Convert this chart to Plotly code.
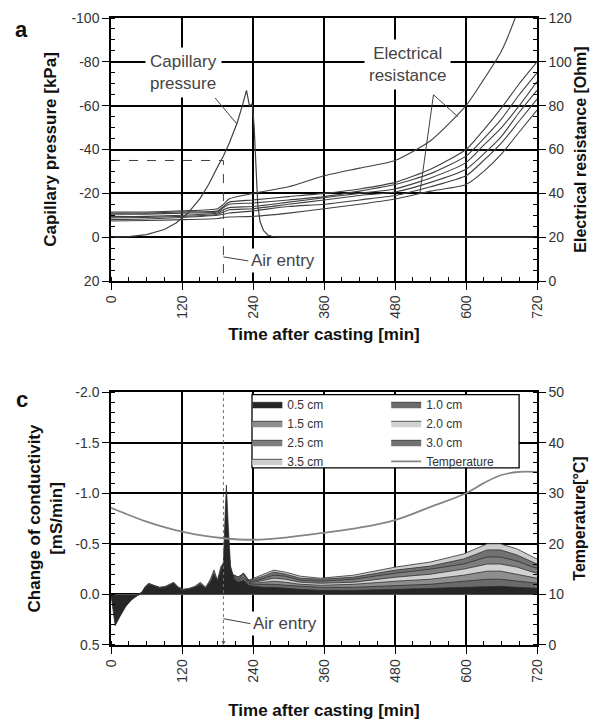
import plotly.graph_objects as go

# ---------------- Panel a data ----------------
cap_t = [0, 30, 60, 90, 110, 130, 150, 165, 180, 190, 200, 213, 222, 229, 234, 239, 242, 245, 248, 252, 258, 265, 275, 285, 400, 600, 720]
cap_p = [0, -0.3, -1.2, -3.5, -6.5, -11, -17.5, -24, -32, -37, -43, -52, -60, -67, -60, -61, -50, -30, -15, -7, -3, -1, -0.2, 0, 0, 0, 0]

res_t = [0, 60, 120, 180, 190, 200, 240, 300, 360, 420, 480, 540, 600, 630, 660, 690, 720]
res_1 = [31.5, 31.5, 32, 33, 35, 37.5, 40, 43, 48, 51.5, 55, 64, 80, 92, 105, 125, 150]
res_2 = [31, 31, 31.5, 32, 34, 36, 37, 38.5, 40, 42, 45, 51, 60, 69, 79, 90, 100]
res_3 = [30.5, 30.5, 31, 31.5, 33.5, 35, 35.6, 37, 38.5, 41, 44, 49, 57, 65, 74, 85, 95]
res_4 = [29.5, 29.5, 30, 31, 32.5, 33.5, 34, 36, 38, 40, 42, 47, 54, 62, 70, 80, 91]
res_5 = [28.8, 29, 29.5, 30.5, 31.5, 32.5, 33, 35, 37, 39, 40.6, 45, 51, 58, 66, 77, 87]
res_6 = [28, 28.3, 29, 30, 30.5, 31, 32, 34, 35, 37, 39, 43, 48, 55, 63, 73, 83]
res_7 = [27.4, 27.6, 28, 28.5, 29, 29.2, 29.5, 31, 33, 35, 37.4, 41, 44, 50, 58, 68, 78]
res_series = [res_1, res_2, res_3, res_4, res_5, res_6, res_7]

air_entry_time = 190
air_entry_pressure = -35

# tick labels
x_ticks = [0, 120, 240, 360, 480, 600, 720]
cap_ticks = [-100, -80, -60, -40, -20, 0, 20]
cap_ticklabels = ["-100", "-80", "-60", "-40", "-20", "0", "20"]
res_ticks = [0, 20, 40, 60, 80, 100, 120]
cond_ticks = [-2.0, -1.5, -1.0, -0.5, 0.0, 0.5]
cond_ticklabels = ["-2.0", "-1.5", "-1.0", "-0.5", "0.0", "0.5"]
temp_ticks = [0, 10, 20, 30, 40, 50]

# ---------------- Panel c data ----------------
cond_t = [0, 3, 7, 15, 25, 35, 45, 52, 58, 64, 72, 82, 92, 100, 106, 114, 122, 132, 142, 151,
          160, 168, 174, 180, 186, 190, 193, 195, 198, 202, 208, 215, 224, 233,
          242, 258, 275, 295, 320, 354, 410, 481, 540, 596, 636, 658, 686, 713, 720]
cond_05 = [0, 0.12, 0.31, 0.22, 0.12, 0.05, 0.0, -0.02, -0.07, -0.1, -0.08, -0.06, -0.07, -0.09, -0.11, -0.06, -0.04, -0.05, -0.07, -0.1,
           -0.06, -0.12, -0.2, -0.13, -0.25, -0.32, -0.8, -1.08, -0.7, -0.28, -0.15, -0.12, -0.14, -0.09,
           -0.08, -0.07, -0.07, -0.06, -0.05, -0.04, -0.04, -0.05, -0.06, -0.07, -0.08, -0.08, -0.07, -0.06, -0.06]
cond_10 = [0, 0.08, 0.24, 0.2, 0.11, 0.05, 0.01, -0.02, -0.08, -0.11, -0.09, -0.07, -0.08, -0.1, -0.12, -0.07, -0.05, -0.06, -0.08, -0.12,
           -0.07, -0.15, -0.24, -0.14, -0.28, -0.3, -0.55, -0.7, -0.5, -0.25, -0.17, -0.14, -0.17, -0.11,
           -0.1, -0.1, -0.1, -0.09, -0.08, -0.07, -0.07, -0.09, -0.1, -0.13, -0.15, -0.15, -0.13, -0.11, -0.11]
cond_15 = [0, 0.06, 0.2, 0.18, 0.1, 0.05, 0.01, -0.02, -0.07, -0.1, -0.09, -0.07, -0.07, -0.09, -0.1, -0.07, -0.05, -0.05, -0.07, -0.1,
           -0.07, -0.13, -0.2, -0.14, -0.24, -0.26, -0.4, -0.5, -0.38, -0.24, -0.18, -0.15, -0.19, -0.12,
           -0.11, -0.12, -0.13, -0.12, -0.1, -0.09, -0.1, -0.13, -0.15, -0.19, -0.23, -0.23, -0.2, -0.17, -0.16]
cond_20 = [0, 0.05, 0.17, 0.16, 0.09, 0.04, 0.01, -0.02, -0.06, -0.09, -0.08, -0.06, -0.06, -0.08, -0.09, -0.06, -0.04, -0.05, -0.06, -0.09,
           -0.06, -0.11, -0.18, -0.13, -0.2, -0.22, -0.3, -0.36, -0.3, -0.22, -0.19, -0.16, -0.2, -0.13,
           -0.12, -0.14, -0.16, -0.15, -0.12, -0.11, -0.12, -0.17, -0.2, -0.25, -0.3, -0.3, -0.27, -0.22, -0.21]
cond_25 = [0, 0.04, 0.14, 0.14, 0.08, 0.04, 0.01, -0.01, -0.05, -0.08, -0.07, -0.06, -0.06, -0.07, -0.08, -0.06, -0.04, -0.04, -0.06, -0.08,
           -0.06, -0.1, -0.15, -0.12, -0.17, -0.19, -0.24, -0.28, -0.25, -0.2, -0.19, -0.17, -0.21, -0.13,
           -0.13, -0.16, -0.19, -0.18, -0.14, -0.13, -0.15, -0.21, -0.25, -0.3, -0.37, -0.37, -0.33, -0.27, -0.26]
cond_30 = [0, 0.03, 0.11, 0.12, 0.07, 0.03, 0.0, -0.01, -0.04, -0.07, -0.06, -0.05, -0.05, -0.06, -0.07, -0.05, -0.04, -0.04, -0.05, -0.07,
           -0.05, -0.09, -0.13, -0.11, -0.15, -0.17, -0.2, -0.22, -0.21, -0.19, -0.19, -0.17, -0.21, -0.14,
           -0.15, -0.18, -0.22, -0.2, -0.16, -0.15, -0.17, -0.24, -0.28, -0.35, -0.44, -0.44, -0.39, -0.32, -0.3]
cond_35 = [0, 0.02, 0.09, 0.1, 0.06, 0.03, 0.0, -0.01, -0.04, -0.06, -0.05, -0.05, -0.05, -0.05, -0.06, -0.05, -0.03, -0.04, -0.05, -0.06,
           -0.05, -0.08, -0.11, -0.1, -0.13, -0.15, -0.17, -0.19, -0.19, -0.18, -0.18, -0.17, -0.2, -0.14,
           -0.16, -0.2, -0.24, -0.22, -0.18, -0.16, -0.19, -0.27, -0.32, -0.4, -0.5, -0.5, -0.45, -0.37, -0.35]

depth_labels = ["0.5 cm", "1.0 cm", "1.5 cm", "2.0 cm", "2.5 cm", "3.0 cm", "3.5 cm"]
depth_values = [cond_05, cond_10, cond_15, cond_20, cond_25, cond_30, cond_35]
depth_colors = ["#262626", "#6a6a6a", "#8e8e8e", "#d2d2d2", "#7e7e7e", "#727272", "#cdcdcd"]
depth_legend = ["legend", "legend2", "legend", "legend2", "legend", "legend2", "legend"]

temp_t = [0, 30, 60, 90, 120, 150, 190, 240, 300, 354, 420, 480, 540, 600, 630, 660, 690, 720]
temp_c = [27.1, 25.7, 24.4, 23.3, 22.4, 21.7, 21.1, 20.8, 21.3, 22.1, 23.2, 24.7, 27.3, 30, 32, 33.6, 34.2, 34.2]

# ---------------- Figure ----------------
fig = go.Figure()
LC = "#404040"

fig.add_trace(go.Scatter(x=cap_t, y=cap_p, mode="lines", line=dict(color=LC, width=1.2),
                         xaxis="x", yaxis="y", showlegend=False))
for r in res_series:
    fig.add_trace(go.Scatter(x=res_t, y=r, mode="lines", line=dict(color=LC, width=1.1, shape="spline", smoothing=0.6),
                             xaxis="x", yaxis="y2", showlegend=False))
fig.add_trace(go.Scatter(x=[0, air_entry_time, air_entry_time], y=[air_entry_pressure, air_entry_pressure, 20],
                         mode="lines", line=dict(color=LC, width=1, dash="dash"),
                         xaxis="x", yaxis="y", showlegend=False))

for i in reversed(range(len(depth_values))):
    fig.add_trace(go.Scatter(x=cond_t, y=depth_values[i], mode="lines", fill="tozeroy",
                             fillcolor=depth_colors[i], line=dict(color="#303030", width=0.8),
                             name=depth_labels[i], legend=depth_legend[i], legendrank=i + 1,
                             xaxis="x2", yaxis="y3"))
fig.add_trace(go.Scatter(x=temp_t, y=temp_c, mode="lines", line=dict(color="#858585", width=1.8, shape="spline"),
                         name="Temperature", legend="legend2", legendrank=8, xaxis="x2", yaxis="y4"))
fig.add_trace(go.Scatter(x=[air_entry_time, air_entry_time], y=[-2.0, 0.48], mode="lines",
                         line=dict(color="#707070", width=1, dash="dot"), xaxis="x2", yaxis="y3", showlegend=False))

FONT = "Liberation Sans, Arial, sans-serif"
tickfont = dict(family=FONT, size=14, color="#333")
titlefont = dict(family=FONT, size=17, color="#111")

common = dict(ticks="outside", ticklen=7, tickwidth=1.3, tickcolor="black", zeroline=False,
              showline=True, linecolor="black", linewidth=1.5, tickfont=tickfont, automargin=False)

def xax(anchor, title, standoff):
    return dict(anchor=anchor, domain=[0, 1], range=[0, 720], tickmode="array", tickvals=x_ticks, tickangle=-90,
                minor=dict(ticks="inside", dtick=30, tick0=0, ticklen=4, tickcolor="black", showgrid=False),
                showgrid=True, gridcolor="black", gridwidth=1.5, mirror=True,
                title=dict(text=title, font=titlefont, standoff=standoff), **common)

fig.update_layout(
    width=593, height=713,
    margin=dict(l=103, r=64, t=10, b=76, autoexpand=False),
    paper_bgcolor="white", plot_bgcolor="white",
    font=dict(family=FONT),
    xaxis=xax("y", "<b>Time after casting [min]</b>", 10),
    xaxis2=xax("y3", "<b>Time after casting [min]</b>", 22),
    yaxis=dict(domain=[0.5805, 1], range=[20, -100], tickmode="array", tickvals=cap_ticks, ticktext=cap_ticklabels,
               minor=dict(ticks="inside", dtick=5, tick0=0, ticklen=4, tickcolor="black", showgrid=False),
               showgrid=True, gridcolor="black", gridwidth=1.5,
               title=dict(text="<b>Capillary pressure [kPa]</b>", font=titlefont, standoff=10), **common),
    yaxis2=dict(overlaying="y", side="right", range=[0, 120], tickmode="array", tickvals=res_ticks,
                minor=dict(ticks="inside", dtick=5, tick0=0, ticklen=4, tickcolor="black", showgrid=False),
                showgrid=False,
                title=dict(text="<b>Electrical resistance [Ohm]</b>", font=dict(family=FONT, size=16, color="#111"),
                           standoff=4), **common),
    yaxis3=dict(domain=[0, 0.4035], anchor="x2", range=[0.5, -2.0], tickmode="array", tickvals=cond_ticks,
                ticktext=cond_ticklabels,
                minor=dict(ticks="inside", dtick=0.1, tick0=0, ticklen=4, tickcolor="black", showgrid=False),
                showgrid=True, gridcolor="black", gridwidth=1.5,
                title=dict(text="<b>Change of conductivity<br>[mS/min]</b>", font=titlefont, standoff=8), **common),
    yaxis4=dict(overlaying="y3", side="right", anchor="x2", range=[0, 50], tickmode="array", tickvals=temp_ticks,
                minor=dict(ticks="inside", dtick=2, tick0=0, ticklen=4, tickcolor="black", showgrid=False),
                showgrid=False,
                title=dict(text="<b>Temperature[°C]</b>", font=dict(family=FONT, size=16, color="#111"),
                           standoff=10), **common),
    legend=dict(x=0.320, y=0.407, xanchor="left", yanchor="top", bgcolor="rgba(0,0,0,0)", borderwidth=0,
                font=dict(family=FONT, size=12, color="#333"), itemwidth=30, tracegroupgap=0, traceorder="normal"),
    legend2=dict(x=0.646, y=0.407, xanchor="left", yanchor="top", bgcolor="rgba(0,0,0,0)", borderwidth=0,
                 font=dict(family=FONT, size=12, color="#333"), itemwidth=30, tracegroupgap=0, traceorder="normal"),
)

fig.add_shape(type="rect", xref="x2 domain", yref="y3 domain", x0=0.331, x1=0.958, y0=0.700, y1=0.99,
              fillcolor="white", line=dict(color="black", width=1.3), layer="above")

fig.add_shape(type="line", xref="x", yref="y", x0=176, y0=-63.5, x1=213, y1=-51.6, line=dict(color=LC, width=1))
fig.add_shape(type="line", xref="x", yref="y2", x0=545, y0=85, x1=586, y1=75, line=dict(color=LC, width=1))
fig.add_shape(type="line", xref="x", yref="y2", x0=545, y0=85, x1=522, y1=40, line=dict(color=LC, width=1))

annfont = dict(family=FONT, size=17, color="#444")
fig.add_annotation(x=122, y=-75, xref="x", yref="y", text="Capillary<br>pressure", showarrow=False,
                   font=annfont, bgcolor="white", borderpad=4)
fig.add_annotation(x=501, y=99, xref="x", yref="y2", text="Electrical<br>resistance", showarrow=False,
                   font=annfont, bgcolor="white", borderpad=4)
fig.add_annotation(x=air_entry_time, y=9, xref="x", yref="y", text="Air entry", showarrow=True,
                   ax=25, ay=4, xanchor="left", arrowhead=0, arrowwidth=1, arrowcolor=LC,
                   font=annfont, bgcolor="white", borderpad=2)
fig.add_annotation(x=air_entry_time, y=0.24, xref="x2", yref="y3", text="Air entry", showarrow=True,
                   ax=27, ay=5, xanchor="left", arrowhead=0, arrowwidth=1, arrowcolor=LC,
                   font=annfont, bgcolor="white", borderpad=2)
fig.add_annotation(x=air_entry_time, y=0.5, xref="x2", yref="y3", text=" ", showarrow=True,
                   ax=0, ay=-12, arrowhead=2, arrowsize=0.8, arrowwidth=1, arrowcolor="#606060")

fig.add_annotation(x=-0.211, y=0.981, xref="paper", yref="paper", text="<b>a</b>", showarrow=False,
                   xanchor="center", yanchor="middle", font=dict(family=FONT, size=22, color="#111"))
fig.add_annotation(x=-0.209, y=0.391, xref="paper", yref="paper", text="<b>c</b>", showarrow=False,
                   xanchor="center", yanchor="middle", font=dict(family=FONT, size=22, color="#111"))

fig.write_html("out.html")
